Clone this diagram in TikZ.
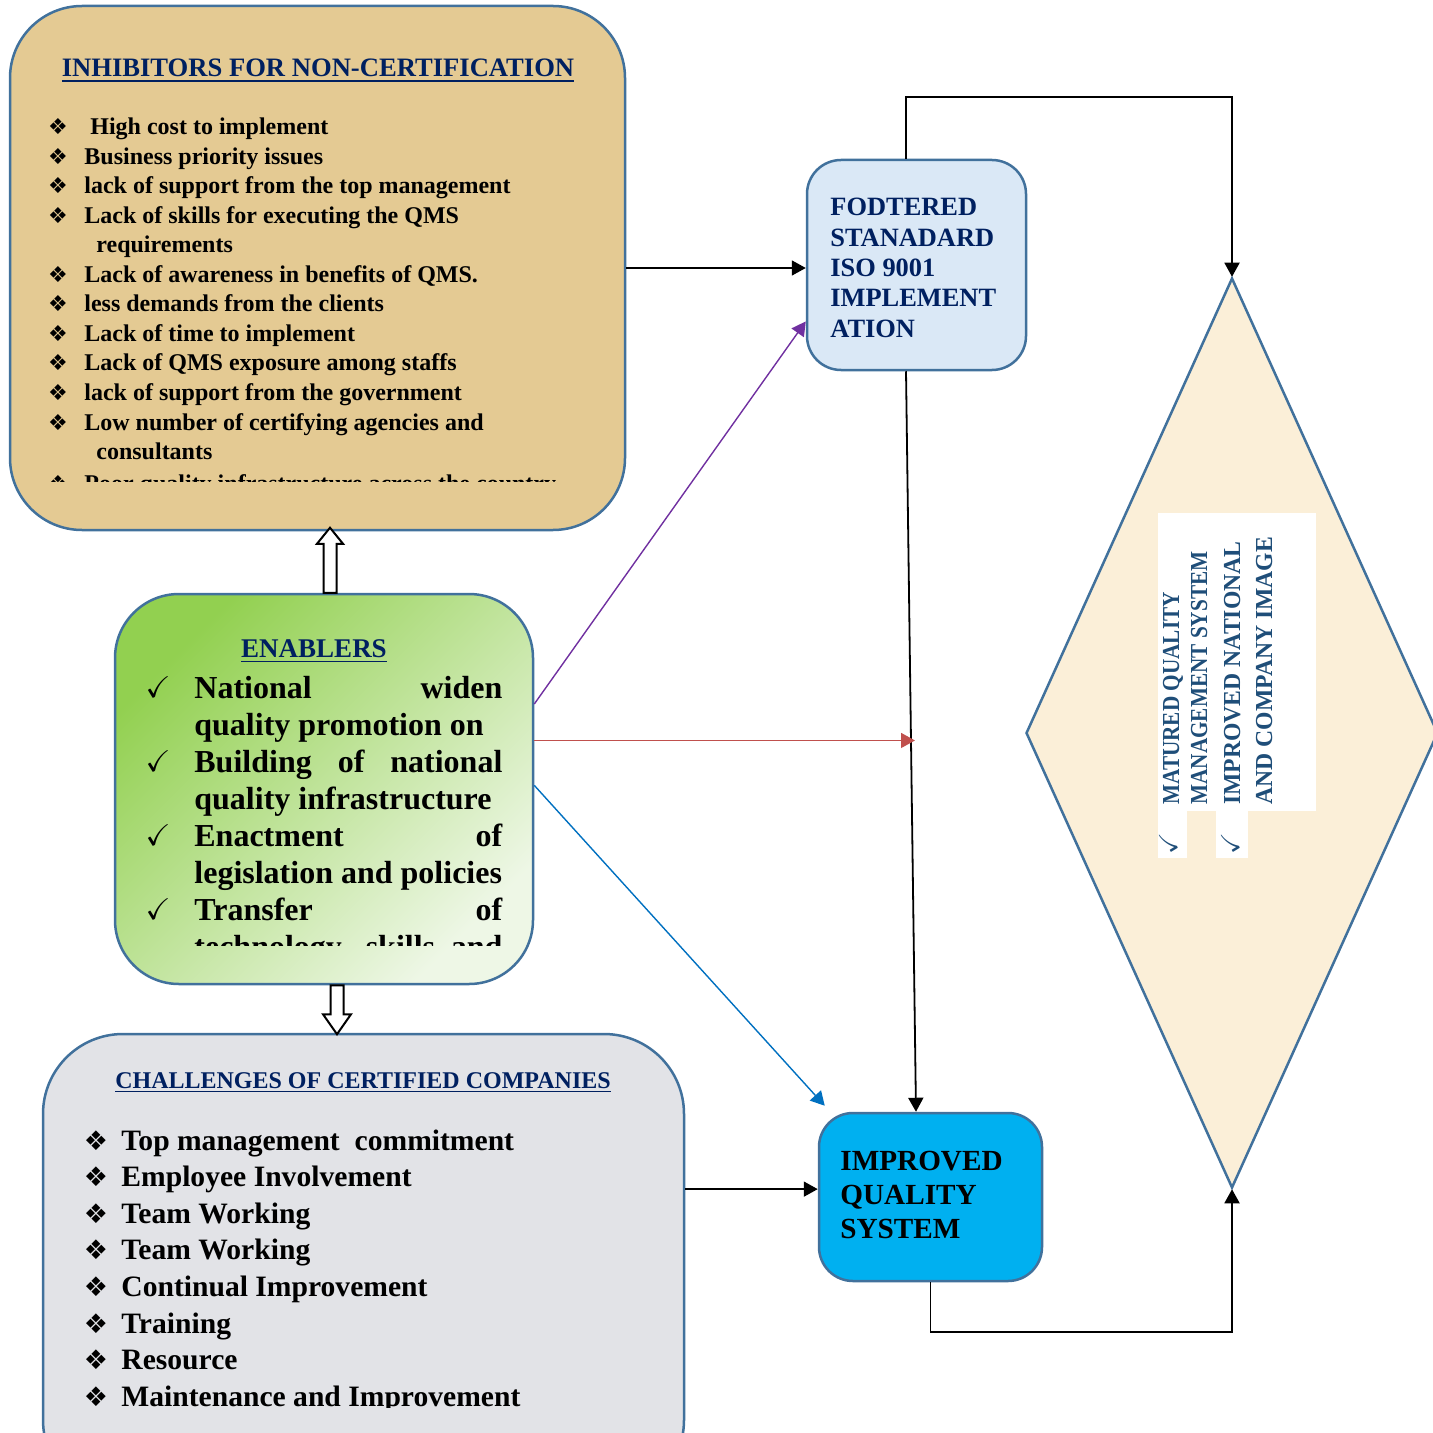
\documentclass[tikz,border=0pt]{standalone}
\usepackage{fontspec}
\setmainfont{Liberation Serif}
\newfontfamily\symfont{DejaVu Sans}
\usepackage{amssymb}
\usetikzlibrary{arrows.meta, positioning, calc, shapes.geometric}

\definecolor{navy}{HTML}{002060}
\definecolor{steel}{HTML}{41719C}
\definecolor{papyrus}{HTML}{E4CA93}
\definecolor{marble}{HTML}{E2E3E7}
\definecolor{skyfill}{HTML}{DAE8F6}
\definecolor{cyanfill}{HTML}{00B0F0}
\definecolor{cream}{HTML}{FBEFD8}
\definecolor{leafdark}{HTML}{92D050}
\definecolor{leaflight}{HTML}{EEF7E6}
\definecolor{diamtext}{HTML}{1F4E79}
\definecolor{purplearr}{HTML}{7030A0}
\definecolor{redarr}{HTML}{C0504D}
\definecolor{bluearr}{HTML}{0070C0}

\newcommand{\blt}{{\symfont ❖}}

\tikzset{
  panel/.style={draw=steel, line width=1.25pt, inner sep=0pt},
  arr/.style={-{Triangle[length=7pt,width=7.5pt]}, line width=0.9pt},
  thinarr/.style={-{Triangle[length=7pt,width=7.5pt]}, line width=0.7pt},
  hollow/.style={draw=black, line width=1pt, fill=white},
  headtext/.style={font=\bfseries\fontsize{13.3}{15}\selectfont, text=navy, inner sep=0pt, anchor=base},
  inhtext/.style={font=\bfseries\fontsize{12}{14}\selectfont, inner sep=0pt, anchor=base west},
  enabtext/.style={font=\bfseries\fontsize{16}{18}\selectfont, inner sep=0pt, anchor=base west},
  chaltext/.style={font=\bfseries\fontsize{14.8}{17}\selectfont, inner sep=0pt, anchor=base west},
  boxtext/.style={font=\bfseries\fontsize{13.2}{15}\selectfont, inner sep=0pt, anchor=base west},
  diamtxt/.style={font=\bfseries\fontsize{12.2}{14}\selectfont, text=diamtext, inner sep=0pt, anchor=base west, rotate=90},
  bltnode/.style={inner sep=0pt, anchor=base}
}

\begin{document}
\begin{tikzpicture}[x=0.5pt,y=-0.5pt]
\useasboundingbox (0,0) rectangle (1433,1433);
\clip (0,0) rectangle (1433,1433);

% panels
\node[panel, rounded corners=36pt, fill=papyrus, minimum width=307.5pt, minimum height=262pt] (inhib) at (317.5,268) {};
\node[panel, rounded corners=32pt, top color=leafdark, bottom color=leaflight, shading angle=45, minimum width=209pt, minimum height=195pt] (enab) at (324,789) {};
\node[panel, rounded corners=40pt, fill=marble, minimum width=320.5pt, minimum height=233pt] (chal) at (363.5,1267) {};
\node[panel, rounded corners=17pt, fill=skyfill, minimum width=109.5pt, minimum height=105pt] (fod) at (916.5,265) {};
\node[panel, rounded corners=17pt, fill=cyanfill, minimum width=111.5pt, minimum height=84pt] (iqs) at (930.5,1197) {};
\node[panel, diamond, fill=cream, minimum width=206pt, minimum height=455pt] (outcome) at (1232,733) {};

% inhibitors
\node[headtext] (inhibtitle) at (318,77) {\underline{INHIBITORS FOR NON-CERTIFICATION}};
\begin{scope}
\clip (10,0) rectangle (625,481);
\foreach \t [count=\i from 0] in {{\ High cost to implement}, {Business priority issues}, {lack of support from the top management}, {Lack of skills for executing the QMS}, {\hspace*{6pt}requirements}, {Lack of awareness in benefits of QMS.}, {less demands from the clients}, {Lack of time to implement}, {Lack of QMS exposure among staffs}, {lack of support from the government}, {Low number of certifying agencies and}, {\hspace*{6pt}consultants}, {Poor quality infrastructure across the country}}
  \node[inhtext] (inh\i) at (84,{135+29.5*\i+(\i==12?2:0)}) {\t};
\foreach \i in {0,1,2,3,5,6,7,8,9,10,12}
  \node[bltnode, font=\fontsize{11}{11}\selectfont] (inhb\i) at (58,{135+29.5*\i+(\i==12?2:0)}) {\blt};
\end{scope}

% enablers
\node[headtext, font=\bfseries\fontsize{13.5}{15}\selectfont] (enabtitle) at (314,657) {\underline{ENABLERS}};
\begin{scope}
\clip (115,600) rectangle (533,945);
\foreach \t [count=\i from 0] in {{\makebox[154pt][s]{National widen}}, {quality promotion on}, {\makebox[154pt][s]{Building of national}}, {quality infrastructure}, {\makebox[154pt][s]{Enactment of}}, {legislation and policies}, {\makebox[154pt][s]{Transfer of}}, {\makebox[154pt][s]{technology, skills and}}}
  \node[enabtext] (enab\i) at (194,{698+37*\i}) {\t};
\foreach \i in {0,2,4,6}
  \node[bltnode, font=\fontsize{15}{15}\selectfont] (enabc\i) at (158,{697+37*\i}) {$\checkmark$};
\end{scope}

% challenges
\node[headtext, font=\bfseries\fontsize{12}{14}\selectfont] (chaltitle) at (363,1088) {\underline{CHALLENGES OF CERTIFIED COMPANIES}};
\begin{scope}
\clip (43,1100) rectangle (684,1407);
\foreach \t [count=\i from 0] in {{Top management\ \ commitment}, {Employee Involvement}, {Team Working}, {Team Working}, {Continual Improvement}, {Training}, {Resource}, {Maintenance and Improvement}}
  \node[chaltext] (chal\i) at (121,{1150+36.6*\i}) {\t};
\foreach \i in {0,...,7}
  \node[bltnode, font=\fontsize{13.5}{13.5}\selectfont] (chalb\i) at (96,{1150+36.6*\i}) {\blt};
\end{scope}

% right boxes
\foreach \t [count=\i from 0] in {FODTERED, STANADARD, ISO 9001, IMPLEMENT, ATION}
  \node[boxtext, text=navy] (fod\i) at (830,{216+30.25*\i}) {\t};
\foreach \t [count=\i from 0] in {IMPROVED, QUALITY, SYSTEM}
  \node[boxtext, font=\bfseries\fontsize{14.6}{17}\selectfont] (iqs\i) at (840,{1170+34*\i}) {\t};

% outcome text
\fill[white] (1158,513) rectangle (1316,811);
\fill[white] (1158,811) rectangle (1187,858);
\fill[white] (1216,811) rectangle (1248,858);
\foreach \t/\xb/\sc [count=\i from 0] in {MATURED QUALITY/1179/0.87, MANAGEMENT SYSTEM/1207/0.87, IMPROVED NATIONAL/1240/0.97, AND COMPANY IMAGE/1272/0.97}
  \node[diamtxt] (out\i) at (\xb,805) {\scalebox{\sc}[1]{\t}};
\node[diamtxt, font=\fontsize{13}{13}\selectfont] (outc0) at (1177,855) {$\checkmark$};
\node[diamtxt, font=\fontsize{13}{13}\selectfont] (outc1) at (1239,855) {$\checkmark$};

% hollow arrows
\coordinate (upbase) at ($(enab.north)+(6,0)$);
\draw[hollow] (upbase) ++(-6.5,0) -- ++(0,-49) -- ++(-6.5,0) -- ++(13,-16) -- ++(13,16) -- ++(-6.5,0) -- ++(0,49) -- cycle;
\coordinate (downbase) at ($(enab.south)+(13,0)$);
\draw[hollow] (downbase) ++(-6.5,0) -- ++(0,29) -- ++(-7.5,0) -- ++(14,20) -- ++(14,-20) -- ++(-7.5,0) -- ++(0,-29) -- cycle;

% connectors
\coordinate (fodout) at ($(fod.south)+(-10.5,0)$);
\coordinate (fodtop) at ($(fod.north)+(-10.5,0)$);
\coordinate (iqsin) at ($(iqs.north)+(-14.5,0)$);
\path (fodout) -- (iqsin) coordinate[pos=0.5] (redend);
\coordinate (blueend) at ($(iqs.north west)+(7,-6)$);

\draw[arr] (inhib.east) -- (inhib.east -| fod.west);
\draw[arr] (fodout) -- (iqsin);
\draw[arr] (fodtop) |- ($(outcome.north)+(0,-180)$) -- (outcome.north);
\draw[arr] (iqs.south) |- ($(outcome.south)+(0,143)$) -- (outcome.south);
\draw[arr] (chal.east |- iqs.176) -- (iqs.176);
\draw[thinarr, purplearr] (enab.22) -- (fod.207);
\draw[thinarr, redarr] (enab.13) -- ($(enab.13 -| redend)+(4,0)$);
\draw[thinarr, bluearr] (enab.1) -- (blueend);

\end{tikzpicture}
\end{document}
